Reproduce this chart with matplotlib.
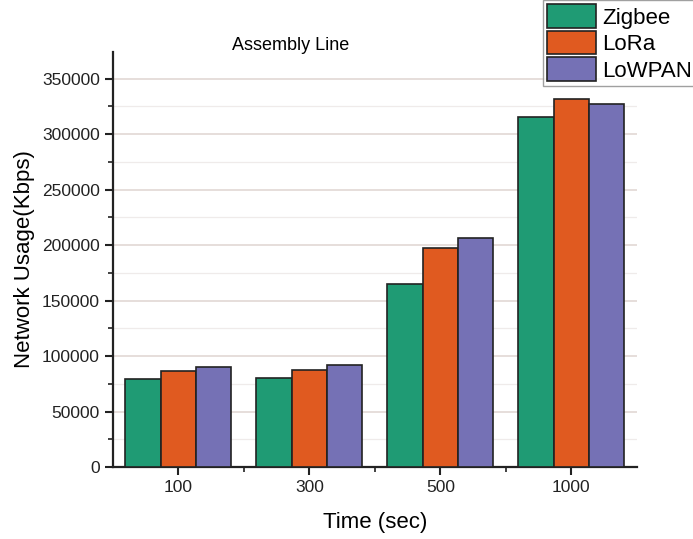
import matplotlib
matplotlib.use("Agg")
import matplotlib.pyplot as plt
import numpy as np
from matplotlib.ticker import MultipleLocator, FixedLocator

plt.rcParams['font.family'] = ['Liberation Sans', 'DejaVu Sans']

# data
times = ['100', '300', '500', '1000']
zigbee = [79500, 80000, 165000, 315500]
lora = [86500, 87500, 197000, 331500]
lowpan = [90500, 91500, 206500, 327000]
series_names = ['Zigbee', 'LoRa', 'LoWPAN']
colors = ['#1f9b74', '#e05a20', '#7571b5']

fig = plt.figure(figsize=(6.93, 5.39), dpi=100)
ax = fig.add_axes([0.163, 0.1336, 0.756, 0.77])

x = np.arange(len(times))
w = 0.27
handles = []
for i, (vals, c) in enumerate(zip([zigbee, lora, lowpan], colors)):
    b = ax.bar(x + (i - 1) * w, vals, w, color=c, edgecolor='#222222',
               linewidth=1.2, zorder=3, label=series_names[i])
    handles.append(b)

ax.set_xlim(-0.5, 3.5)
ax.set_ylim(0, 374000)
ax.set_xticks(x)
ax.set_xticklabels(times)
ax.xaxis.set_minor_locator(FixedLocator(x[:-1] + 0.5))
ax.yaxis.set_major_locator(MultipleLocator(50000))
ax.yaxis.set_minor_locator(MultipleLocator(25000))
ax.grid(True, which='major', axis='y', color='#e2d8d4', linewidth=1.2, zorder=0)
ax.grid(True, which='minor', axis='y', color='#efebea', linewidth=0.9, zorder=0)

for s in ['top', 'right']:
    ax.spines[s].set_visible(False)
for s in ['left', 'bottom']:
    ax.spines[s].set_linewidth(1.6)
    ax.spines[s].set_color('#222222')

ax.tick_params(axis='both', which='major', direction='out', length=6, width=1.5,
               labelsize=12.5, colors='#222222')
ax.tick_params(axis='both', which='minor', direction='out', length=3.5, width=1.2,
               colors='#222222')

ax.set_xlabel('Time (sec)', fontsize=16, labelpad=12)
ax.set_ylabel('Network Usage(Kbps)', fontsize=16, labelpad=5)
fig.text(291 / 693, 1 - 45 / 539, 'Assembly Line', fontsize=13, ha='center', va='center')

leg = fig.legend(handles=handles, loc='upper left', bbox_to_anchor=(543 / 693, 1.0),
                 fontsize=16, handlelength=2.2, handleheight=1.25, handletextpad=0.25,
                 labelspacing=0.1, borderpad=0.2, borderaxespad=0.0,
                 frameon=True, fancybox=False, edgecolor='#888888')
leg.get_frame().set_linewidth(1.0)

fig.savefig('out.png', dpi=100)
